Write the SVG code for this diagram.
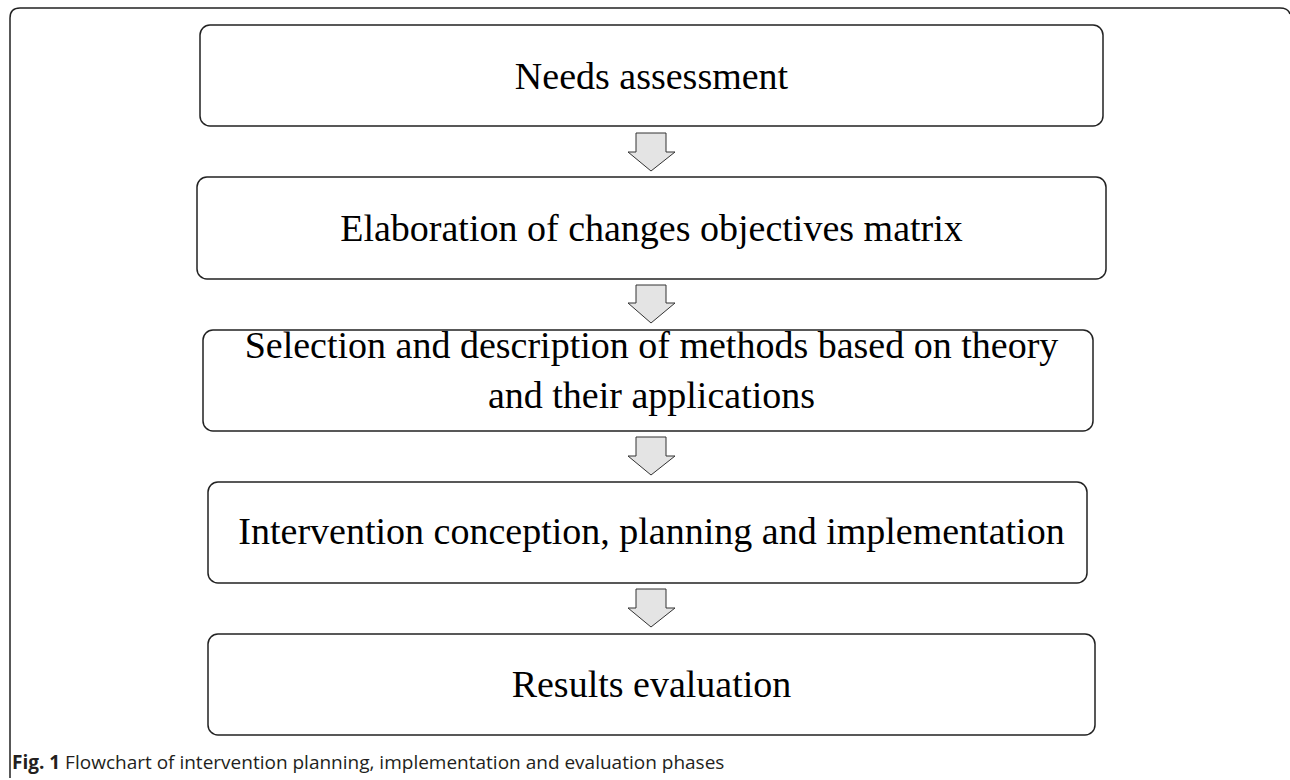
<svg xmlns="http://www.w3.org/2000/svg" width="1290" height="780" viewBox="0 0 1290 780">
<style>
.box{fill:#fff;stroke:#222;stroke-width:1.5}
.lbl{font-family:"Liberation Serif","Times New Roman",serif;font-size:38px;fill:#000;text-anchor:middle}
.arr{fill:#e4e4e4;stroke:#333;stroke-width:1}
.cap{font-family:"Open Sans","Liberation Sans",sans-serif;font-size:19px;fill:#231f20}
</style>
<rect width="1290" height="780" fill="#fff"/>
<path d="M10,778 L10,18 Q10,8 20,8 L1280,8 Q1288,8 1290,14" fill="none" stroke="#222" stroke-width="1.5"/>
<g id="n1"><rect class="box" x="200" y="25" width="903" height="101" rx="10"/><text class="lbl" x="651.5" y="89">Needs assessment</text></g>
<g id="n2"><rect class="box" x="197" y="177" width="909" height="102" rx="10"/><text class="lbl" x="651.5" y="241">Elaboration of changes objectives matrix</text></g>
<g id="n3"><rect class="box" x="203" y="330" width="890" height="101" rx="10"/><text class="lbl" x="651.5" y="358">Selection and description of methods based on theory</text><text class="lbl" x="651.5" y="408">and their applications</text></g>
<g id="n4"><rect class="box" x="208" y="482" width="879" height="101" rx="10"/><text class="lbl" x="651.5" y="544">Intervention conception, planning and implementation</text></g>
<g id="n5"><rect class="box" x="208" y="634" width="887" height="101" rx="10"/><text class="lbl" x="651.5" y="697">Results evaluation</text></g>
<g id="connectors">
<path class="arr" d="M636,133 H666 V152 H675 L651,171 L628,152 H636 Z"/>
<path class="arr" d="M636,285 H666 V303 H675 L651,323 L628,303 H636 Z"/>
<path class="arr" d="M636,437 H666 V456 H675 L651,475 L628,456 H636 Z"/>
<path class="arr" d="M636,589 H666 V608 H675 L651,627 L628,608 H636 Z"/>
</g>
<text class="cap" x="12" y="769"><tspan font-weight="bold">Fig. 1</tspan> Flowchart of intervention planning, implementation and evaluation phases</text>
</svg>
